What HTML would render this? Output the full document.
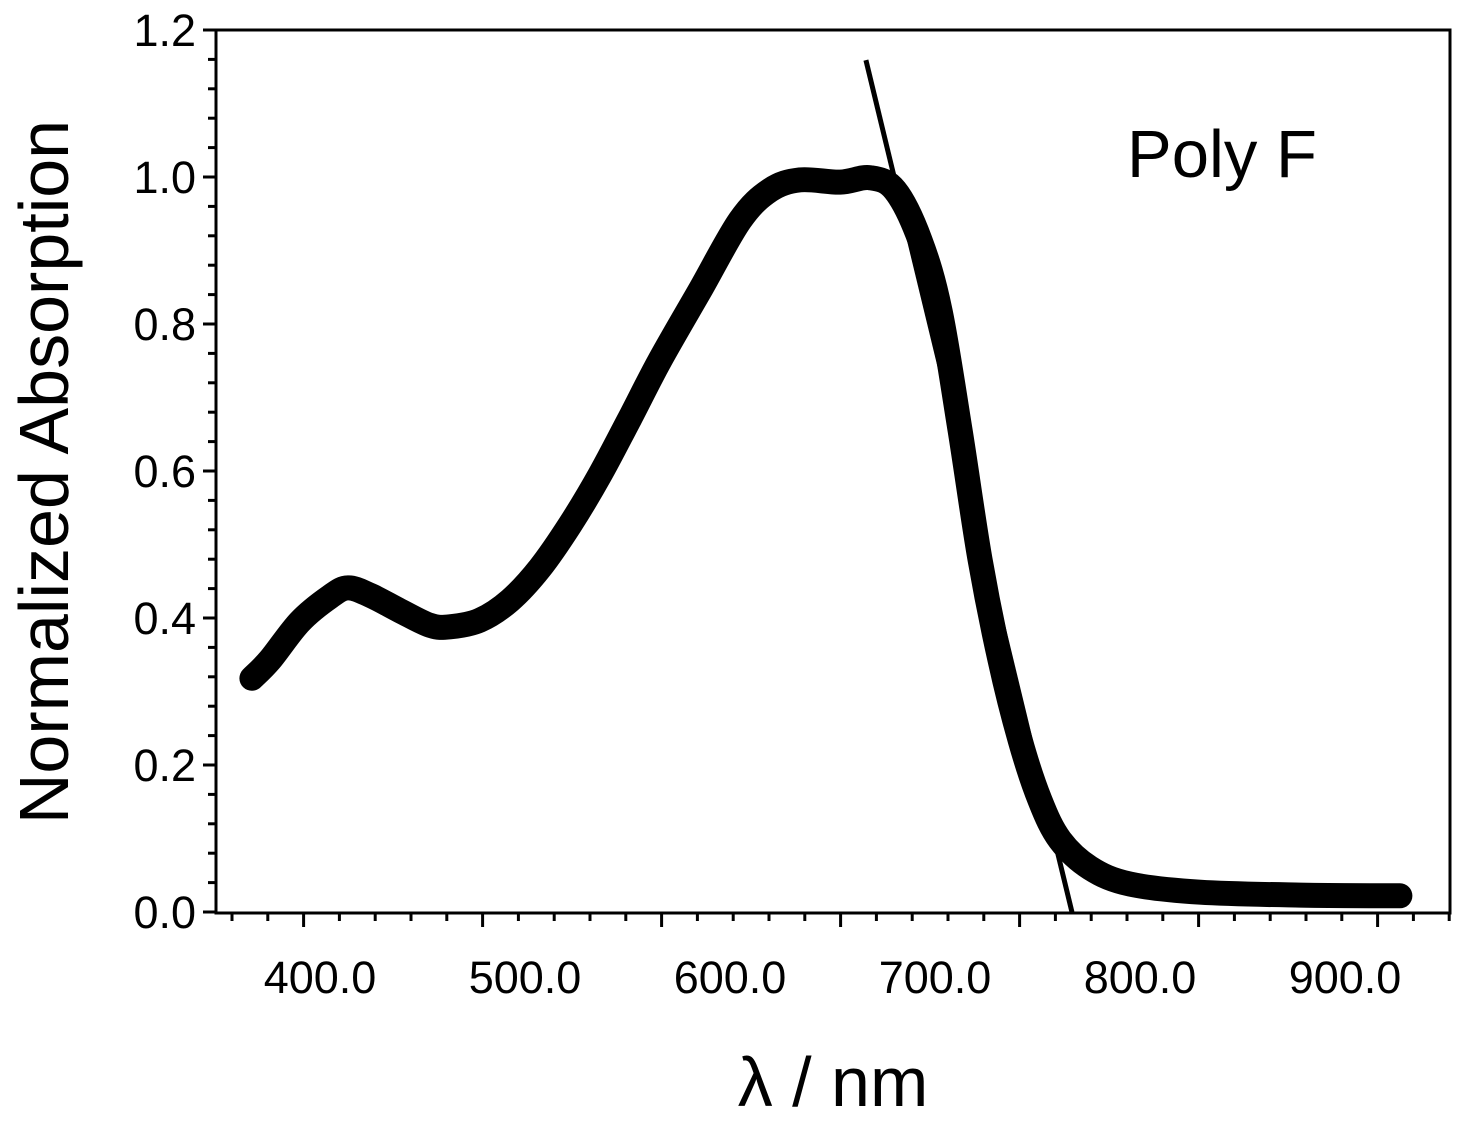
<!DOCTYPE html>
<html><head><meta charset="utf-8"><style>
html,body{margin:0;padding:0;background:#fff;}
svg{display:block;font-family:"Liberation Sans",Arial,sans-serif;}
</style></head><body>
<svg id="chart" width="1462" height="1125" viewBox="0 0 1462 1125">
<g id="ticks"></g>
<path id="curve" fill="none" stroke="#000" stroke-width="25" stroke-linecap="round" stroke-linejoin="round"/>
<line id="tangent" stroke="#000" stroke-width="5"/>
<rect x="216" y="30" width="1234" height="883" fill="none" stroke="#000" stroke-width="3"/>
<text x="1127" y="177" font-size="67">Poly F</text>
<text x="833" y="1106" font-size="70" text-anchor="middle">λ / nm</text>
<text transform="translate(68,472) rotate(-90)" font-size="70" text-anchor="middle">Normalized Absorption</text>
</svg>
<script>
const wavelengths=[366.8,375.6,390.2,404.9,413.7,424.4,439,453.7,463.4,478,492.7,507.3,522,536.6,551.2,565.9,585.4,604.9,619.5,634.1,653.7,668.3,680.5,692.7,702.4,712.2,722,731.7,741.5,751.2,761,775.6,795.1,829.3,878,926.8];
const absorbance=[0.318,0.343,0.395,0.429,0.441,0.431,0.41,0.39,0.388,0.397,0.424,0.468,0.527,0.595,0.672,0.751,0.846,0.941,0.982,0.996,0.993,0.999,0.982,0.914,0.819,0.656,0.479,0.343,0.234,0.152,0.098,0.06,0.038,0.027,0.023,0.022];
const tangentX=[666.3,766.8];
const tangentY=[1.159,0.0];
const xLabels=[400,500,600,700,800,900];
const yLabels=[0,0.2,0.4,0.6,0.8,1.0,1.2];
const X=v=>320+(v-400)*2.05;
const Y=v=>912-v*735;
const NS='http://www.w3.org/2000/svg';
const tg=document.getElementById('ticks');
function ln(x1,y1,x2,y2,w,name){const l=document.createElementNS(NS,'line');
l.setAttribute('x1',x1);l.setAttribute('y1',y1);l.setAttribute('x2',x2);l.setAttribute('y2',y2);
l.setAttribute('stroke','#000');l.setAttribute('stroke-width',w);


tg.appendChild(l);}
for(let k=0;k<=30;k++){const v=k*0.04;const y=Y(v);const major=k%5===0;
ln(major?203:208,y,216,y,3,major?'y-major-tick':'y-minor-tick');}
for(let k=0;k<=34;k++){const x=232+k*35.8;const major=(k-2)%5===0;
ln(x,913,x,major?927:921,3,major?'x-major-tick':'x-minor-tick');}
yLabels.forEach(v=>{const t=document.createElementNS(NS,'text');
t.setAttribute('x',196);t.setAttribute('y',Y(v)+16);t.setAttribute('font-size','45');t.setAttribute('text-anchor','end');
t.textContent=v.toFixed(1);


tg.appendChild(t);});
xLabels.forEach(v=>{const t=document.createElementNS(NS,'text');
t.setAttribute('x',X(v));t.setAttribute('y',993);t.setAttribute('font-size','45');t.setAttribute('text-anchor','middle');
t.textContent=v.toFixed(1);


tg.appendChild(t);});
const pts=wavelengths.map((w,i)=>[X(w),Y(absorbance[i])]);
let d='M'+pts[0][0].toFixed(1)+' '+pts[0][1].toFixed(1);
for(let i=0;i<pts.length-1;i++){const p0=pts[Math.max(0,i-1)],p1=pts[i],p2=pts[i+1],p3=pts[Math.min(pts.length-1,i+2)];
const c1=[p1[0]+(p2[0]-p0[0])/6,p1[1]+(p2[1]-p0[1])/6],c2=[p2[0]-(p3[0]-p1[0])/6,p2[1]-(p3[1]-p1[1])/6];
d+=' C'+c1.map(n=>n.toFixed(1)).join(' ')+' '+c2.map(n=>n.toFixed(1)).join(' ')+' '+p2.map(n=>n.toFixed(1)).join(' ');}
document.getElementById('curve').setAttribute('d',d);
const tl=document.getElementById('tangent');
tl.setAttribute('x1',X(tangentX[0]));tl.setAttribute('y1',Y(tangentY[0]));
tl.setAttribute('x2',X(tangentX[1]));tl.setAttribute('y2',Y(tangentY[1]));
</script>
</body></html>
